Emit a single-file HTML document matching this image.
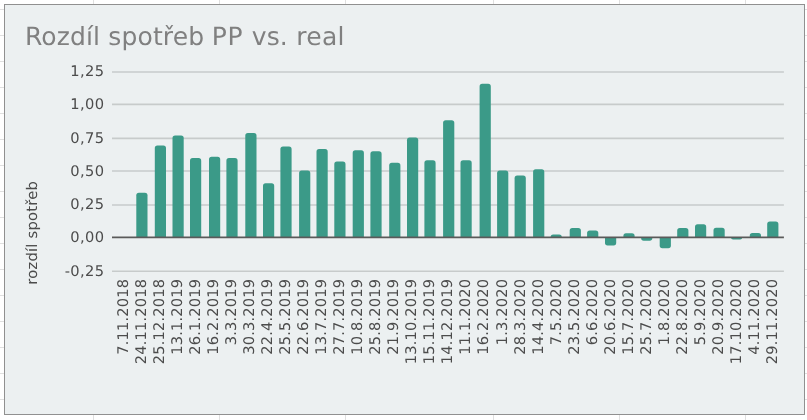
<!DOCTYPE html>
<html lang="cs"><head><meta charset="utf-8"><title>Rozdíl spotřeb PP vs. real</title>
<style>html,body{margin:0;padding:0;background:#fff;}body{width:807px;height:420px;overflow:hidden;}svg{display:block;will-change:transform;}text{font-family:'DejaVu Sans', 'Liberation Sans', sans-serif;text-rendering:geometricPrecision;}</style></head><body>
<svg width="807" height="420" viewBox="0 0 807 420">
<rect x="0" y="0" width="807" height="420" fill="#ffffff"/>
<g fill="#e0e0e0" shape-rendering="crispEdges">
<rect x="93" y="0" width="1" height="420"/>
<rect x="219" y="0" width="1" height="420"/>
<rect x="345" y="0" width="1" height="420"/>
<rect x="493" y="0" width="1" height="420"/>
<rect x="619" y="0" width="1" height="420"/>
<rect x="745" y="0" width="1" height="420"/>
<rect x="0" y="9" width="807" height="1"/>
<rect x="0" y="35" width="807" height="1"/>
<rect x="0" y="61" width="807" height="1"/>
<rect x="0" y="87" width="807" height="1"/>
<rect x="0" y="113" width="807" height="1"/>
<rect x="0" y="139" width="807" height="1"/>
<rect x="0" y="165" width="807" height="1"/>
<rect x="0" y="191" width="807" height="1"/>
<rect x="0" y="217" width="807" height="1"/>
<rect x="0" y="243" width="807" height="1"/>
<rect x="0" y="269" width="807" height="1"/>
<rect x="0" y="295" width="807" height="1"/>
<rect x="0" y="321" width="807" height="1"/>
<rect x="0" y="347" width="807" height="1"/>
<rect x="0" y="373" width="807" height="1"/>
<rect x="0" y="399" width="807" height="1"/>
</g>
<rect x="4.5" y="4.5" width="800" height="410" fill="#ecf0f1" stroke="#909090" stroke-width="1"/>
<text id="title" y="44.7" font-size="25" fill="#808080" xml:space="preserve"><tspan x="24.9" letter-spacing="0.12">Rozdíl </tspan><tspan x="108.3" letter-spacing="0.13">spotřeb </tspan><tspan x="211.7" letter-spacing="0.8">PP </tspan><tspan x="251.8" letter-spacing="0.1">vs. </tspan><tspan x="296.2" letter-spacing="0.33">real</tspan></text>
<g stroke="#c7cbcb" stroke-width="1.6">
<line x1="112" y1="72" x2="783.9" y2="72"/>
<line x1="112" y1="104.4" x2="783.9" y2="104.4"/>
<line x1="112" y1="138.4" x2="783.9" y2="138.4"/>
<line x1="112" y1="171" x2="783.9" y2="171"/>
<line x1="112" y1="205" x2="783.9" y2="205"/>
<line x1="112" y1="271.2" x2="783.9" y2="271.2"/>
</g>
<g font-size="14.67" letter-spacing="0.35" fill="#4c4c4c" text-anchor="end">
<text x="104.4" y="76">1,25</text>
<text x="104.4" y="109.25">1,00</text>
<text x="104.4" y="142.5">0,75</text>
<text x="104.4" y="175.75">0,50</text>
<text x="104.4" y="209">0,25</text>
<text x="104.4" y="242.25">0,00</text>
<text x="104.4" y="275.5">-0,25</text>
</g>
<text id="ytitle" transform="translate(36.6 284.7) rotate(-90)" font-size="14.67" letter-spacing="0.265" fill="#4c4c4c">rozdíl spotřeb</text>
<g fill="#3b9a88">
<path d="M136.3 237.4 V195.3 A2.6 2.6 0 0 1 138.9 192.7 H144.9 A2.6 2.6 0 0 1 147.5 195.3 V237.4 Z"/>
<path d="M154.8 237.4 V148 A2.6 2.6 0 0 1 157.4 145.4 H163.4 A2.6 2.6 0 0 1 166 148 V237.4 Z"/>
<path d="M172.5 237.4 V138.1 A2.6 2.6 0 0 1 175.1 135.5 H181.1 A2.6 2.6 0 0 1 183.7 138.1 V237.4 Z"/>
<path d="M190 237.4 V160.7 A2.6 2.6 0 0 1 192.6 158.1 H198.6 A2.6 2.6 0 0 1 201.2 160.7 V237.4 Z"/>
<path d="M209 237.4 V159.3 A2.6 2.6 0 0 1 211.6 156.7 H217.6 A2.6 2.6 0 0 1 220.2 159.3 V237.4 Z"/>
<path d="M226.4 237.4 V160.7 A2.6 2.6 0 0 1 229 158.1 H235 A2.6 2.6 0 0 1 237.6 160.7 V237.4 Z"/>
<path d="M245.3 237.4 V135.5 A2.6 2.6 0 0 1 247.9 132.9 H253.9 A2.6 2.6 0 0 1 256.5 135.5 V237.4 Z"/>
<path d="M263 237.4 V185.8 A2.6 2.6 0 0 1 265.6 183.2 H271.6 A2.6 2.6 0 0 1 274.2 185.8 V237.4 Z"/>
<path d="M280.4 237.4 V149 A2.6 2.6 0 0 1 283 146.4 H289 A2.6 2.6 0 0 1 291.6 149 V237.4 Z"/>
<path d="M299.1 237.4 V173.2 A2.6 2.6 0 0 1 301.7 170.6 H307.7 A2.6 2.6 0 0 1 310.3 173.2 V237.4 Z"/>
<path d="M316.5 237.4 V151.7 A2.6 2.6 0 0 1 319.1 149.1 H325.1 A2.6 2.6 0 0 1 327.7 151.7 V237.4 Z"/>
<path d="M334.3 237.4 V164.2 A2.6 2.6 0 0 1 336.9 161.6 H342.9 A2.6 2.6 0 0 1 345.5 164.2 V237.4 Z"/>
<path d="M352.7 237.4 V152.9 A2.6 2.6 0 0 1 355.3 150.3 H361.3 A2.6 2.6 0 0 1 363.9 152.9 V237.4 Z"/>
<path d="M370.4 237.4 V153.9 A2.6 2.6 0 0 1 373 151.3 H379 A2.6 2.6 0 0 1 381.6 153.9 V237.4 Z"/>
<path d="M389.2 237.4 V165.4 A2.6 2.6 0 0 1 391.8 162.8 H397.8 A2.6 2.6 0 0 1 400.4 165.4 V237.4 Z"/>
<path d="M407 237.4 V140.2 A2.6 2.6 0 0 1 409.6 137.6 H415.6 A2.6 2.6 0 0 1 418.2 140.2 V237.4 Z"/>
<path d="M424.4 237.4 V162.9 A2.6 2.6 0 0 1 427 160.3 H433 A2.6 2.6 0 0 1 435.6 162.9 V237.4 Z"/>
<path d="M443.1 237.4 V122.8 A2.6 2.6 0 0 1 445.7 120.2 H451.7 A2.6 2.6 0 0 1 454.3 122.8 V237.4 Z"/>
<path d="M460.5 237.4 V162.9 A2.6 2.6 0 0 1 463.1 160.3 H469.1 A2.6 2.6 0 0 1 471.7 162.9 V237.4 Z"/>
<path d="M479.6 237.4 V86.4 A2.6 2.6 0 0 1 482.2 83.8 H488.2 A2.6 2.6 0 0 1 490.8 86.4 V237.4 Z"/>
<path d="M497.1 237.4 V173.2 A2.6 2.6 0 0 1 499.7 170.6 H505.7 A2.6 2.6 0 0 1 508.3 173.2 V237.4 Z"/>
<path d="M514.6 237.4 V178.2 A2.6 2.6 0 0 1 517.2 175.6 H523.2 A2.6 2.6 0 0 1 525.8 178.2 V237.4 Z"/>
<path d="M533.1 237.4 V171.9 A2.6 2.6 0 0 1 535.7 169.3 H541.7 A2.6 2.6 0 0 1 544.3 171.9 V237.4 Z"/>
<path d="M550.6 237.4 V237.2 A2.6 2.6 0 0 1 553.2 234.6 H559.2 A2.6 2.6 0 0 1 561.8 237.2 V237.4 Z"/>
<path d="M569.7 237.4 V230.6 A2.6 2.6 0 0 1 572.3 228 H578.3 A2.6 2.6 0 0 1 580.9 230.6 V237.4 Z"/>
<path d="M587.1 237.4 V233.1 A2.6 2.6 0 0 1 589.7 230.5 H595.7 A2.6 2.6 0 0 1 598.3 233.1 V237.4 Z"/>
<path d="M605 237.4 V242.8 A2.6 2.6 0 0 0 607.6 245.4 H613.6 A2.6 2.6 0 0 0 616.2 242.8 V237.4 Z"/>
<path d="M623.4 237.4 V235.8 A2.6 2.6 0 0 1 626 233.2 H632 A2.6 2.6 0 0 1 634.6 235.8 V237.4 Z"/>
<path d="M641.1 237.4 V238.1 A2.6 2.6 0 0 0 643.7 240.7 H649.7 A2.6 2.6 0 0 0 652.3 238.1 V237.4 Z"/>
<path d="M659.7 237.4 V245.6 A2.6 2.6 0 0 0 662.3 248.2 H668.3 A2.6 2.6 0 0 0 670.9 245.6 V237.4 Z"/>
<path d="M677.2 237.4 V230.6 A2.6 2.6 0 0 1 679.8 228 H685.8 A2.6 2.6 0 0 1 688.4 230.6 V237.4 Z"/>
<path d="M695 237.4 V226.9 A2.6 2.6 0 0 1 697.6 224.3 H703.6 A2.6 2.6 0 0 1 706.2 226.9 V237.4 Z"/>
<path d="M713.5 237.4 V230.4 A2.6 2.6 0 0 1 716.1 227.8 H722.1 A2.6 2.6 0 0 1 724.7 230.4 V237.4 Z"/>
<path d="M731 237.4 V237.4 A2.1 2.1 0 0 0 733.1 239.5 H740.1 A2.1 2.1 0 0 0 742.2 237.4 V237.4 Z"/>
<path d="M749.8 237.4 V235.6 A2.6 2.6 0 0 1 752.4 233 H758.4 A2.6 2.6 0 0 1 761 235.6 V237.4 Z"/>
<path d="M767.2 237.4 V224 A2.6 2.6 0 0 1 769.8 221.4 H775.8 A2.6 2.6 0 0 1 778.4 224 V237.4 Z"/>
</g>
<line x1="112" y1="237.4" x2="783.9" y2="237.4" stroke="#5a5a5a" stroke-width="1.6"/>
<g font-size="14.67" letter-spacing="0.15" fill="#4c4c4c" text-anchor="end">
<text transform="translate(127.87 278.8) rotate(-90)">7.11.2018</text>
<text transform="translate(145.9 278.8) rotate(-90)">24.11.2018</text>
<text transform="translate(163.93 278.8) rotate(-90)">25.12.2018</text>
<text transform="translate(181.96 278.8) rotate(-90)">13.1.2019</text>
<text transform="translate(199.99 278.8) rotate(-90)">26.1.2019</text>
<text transform="translate(218.02 278.8) rotate(-90)">16.2.2019</text>
<text transform="translate(236.05 278.8) rotate(-90)">3.3.2019</text>
<text transform="translate(254.08 278.8) rotate(-90)">30.3.2019</text>
<text transform="translate(272.11 278.8) rotate(-90)">22.4.2019</text>
<text transform="translate(290.14 278.8) rotate(-90)">25.5.2019</text>
<text transform="translate(308.17 278.8) rotate(-90)">22.6.2019</text>
<text transform="translate(326.2 278.8) rotate(-90)">13.7.2019</text>
<text transform="translate(344.23 278.8) rotate(-90)">27.7.2019</text>
<text transform="translate(362.26 278.8) rotate(-90)">10.8.2019</text>
<text transform="translate(380.29 278.8) rotate(-90)">25.8.2019</text>
<text transform="translate(398.32 278.8) rotate(-90)">21.9.2019</text>
<text transform="translate(416.35 278.8) rotate(-90)">13.10.2019</text>
<text transform="translate(434.38 278.8) rotate(-90)">15.11.2019</text>
<text transform="translate(452.41 278.8) rotate(-90)">14.12.2019</text>
<text transform="translate(470.44 278.8) rotate(-90)">11.1.2020</text>
<text transform="translate(488.47 278.8) rotate(-90)">16.2.2020</text>
<text transform="translate(506.5 278.8) rotate(-90)">1.3.2020</text>
<text transform="translate(524.53 278.8) rotate(-90)">28.3.2020</text>
<text transform="translate(542.56 278.8) rotate(-90)">14.4.2020</text>
<text transform="translate(560.59 278.8) rotate(-90)">7.5.2020</text>
<text transform="translate(578.62 278.8) rotate(-90)">23.5.2020</text>
<text transform="translate(596.65 278.8) rotate(-90)">6.6.2020</text>
<text transform="translate(614.68 278.8) rotate(-90)">20.6.2020</text>
<text transform="translate(632.71 278.8) rotate(-90)">15.7.2020</text>
<text transform="translate(650.74 278.8) rotate(-90)">25.7.2020</text>
<text transform="translate(668.77 278.8) rotate(-90)">1.8.2020</text>
<text transform="translate(686.8 278.8) rotate(-90)">22.8.2020</text>
<text transform="translate(704.83 278.8) rotate(-90)">5.9.2020</text>
<text transform="translate(722.86 278.8) rotate(-90)">20.9.2020</text>
<text transform="translate(740.89 278.8) rotate(-90)">17.10.2020</text>
<text transform="translate(758.92 278.8) rotate(-90)">4.11.2020</text>
<text transform="translate(776.95 278.8) rotate(-90)">29.11.2020</text>
</g>
</svg></body></html>
